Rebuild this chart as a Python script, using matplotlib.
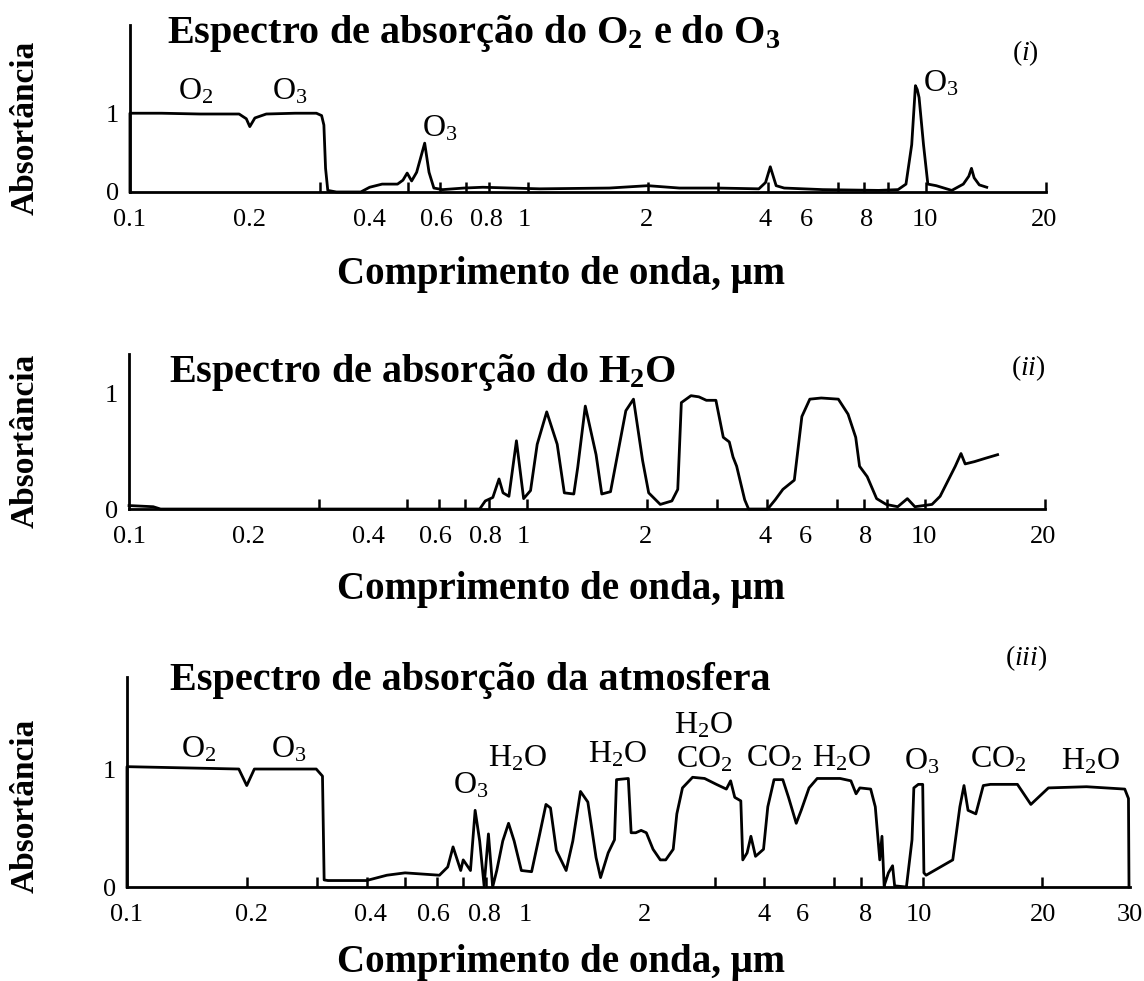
import matplotlib
matplotlib.use("Agg")
import matplotlib.pyplot as plt
from matplotlib.ticker import NullFormatter

# ============================================================
# 1. DADOS
# ============================================================

# (i) espectro de absorção do O2 e do O3
wl_o3 = [0.1, 0.1, 0.12, 0.15, 0.188, 0.196, 0.2, 0.206, 0.22, 0.26,
         0.294, 0.303, 0.307, 0.31, 0.314, 0.33, 0.38, 0.40, 0.43, 0.47,
         0.485, 0.497, 0.51, 0.525, 0.55, 0.564, 0.58, 0.61, 0.69, 0.77,
         1.07, 1.6, 2.0, 2.4, 3.0, 3.8, 3.95, 4.06, 4.2, 4.4,
         5.5, 7.6, 8.5, 8.9, 9.2, 9.4, 9.5, 9.6, 9.85, 10.1,
         10.6, 11.6, 12.4, 12.8, 13.0, 13.2, 13.6, 14.2]
abs_o3 = [0.0, 1.0, 1.0, 0.99, 0.99, 0.93, 0.83, 0.94, 0.99, 1.0,
          1.0, 0.97, 0.85, 0.3, 0.02, 0.0, 0.0, 0.06, 0.10, 0.10,
          0.15, 0.24, 0.14, 0.25, 0.62, 0.25, 0.05, 0.03, 0.05, 0.06,
          0.04, 0.05, 0.08, 0.05, 0.05, 0.04, 0.12, 0.32, 0.08, 0.05,
          0.03, 0.02, 0.03, 0.1, 0.6, 1.35, 1.3, 1.2, 0.6, 0.1,
          0.08, 0.02, 0.1, 0.2, 0.3, 0.18, 0.09, 0.06]

# (ii) espectro de absorção do H2O
wl_h2o = [0.1, 0.115, 0.12, 0.76, 0.785, 0.82, 0.85, 0.87, 0.90, 0.94,
          0.98, 1.02, 1.06, 1.12, 1.19, 1.24, 1.31, 1.34, 1.40, 1.49,
          1.54, 1.62, 1.77, 1.85, 1.95, 2.02, 2.16, 2.31, 2.39, 2.44,
          2.58, 2.70, 2.82, 2.98, 3.11, 3.22, 3.29, 3.36, 3.52, 3.60,
          4.02, 4.20, 4.39, 4.69, 4.90, 5.13, 5.48, 6.05, 6.40, 6.69,
          6.84, 7.15, 7.55, 7.98, 8.53, 9.02, 9.42, 10.4, 10.9, 11.9,
          12.3, 12.6, 13.3, 14.2, 15.2]
abs_h2o = [0.03, 0.02, 0.0, 0.0, 0.07, 0.10, 0.26, 0.14, 0.11, 0.59,
           0.09, 0.16, 0.56, 0.84, 0.56, 0.14, 0.13, 0.36, 0.89, 0.47,
           0.13, 0.15, 0.85, 0.95, 0.42, 0.14, 0.04, 0.07, 0.17, 0.92,
           0.98, 0.97, 0.94, 0.94, 0.62, 0.58, 0.45, 0.37, 0.08, 0.0,
           0.0, 0.08, 0.17, 0.25, 0.80, 0.95, 0.96, 0.95, 0.82, 0.62,
           0.37, 0.28, 0.09, 0.04, 0.02, 0.09, 0.02, 0.04, 0.11, 0.37,
           0.48, 0.39, 0.41, 0.44, 0.47]

# (iii) espectro de absorção da atmosfera
wl_atm = [0.1, 0.1, 0.191, 0.2, 0.209, 0.299, 0.31, 0.313, 0.32, 0.40,
          0.45, 0.50, 0.61, 0.64, 0.66, 0.69, 0.70, 0.73, 0.75, 0.77,
          0.79, 0.81, 0.83, 0.85, 0.88, 0.91, 0.94, 0.98, 1.04, 1.09,
          1.13, 1.16, 1.20, 1.27, 1.32, 1.38, 1.44, 1.51, 1.55, 1.62,
          1.68, 1.70, 1.82, 1.85, 1.90, 1.96, 2.02, 2.10, 2.19, 2.26,
          2.36, 2.41, 2.49, 2.64, 2.83, 3.03, 3.21, 3.29, 3.37, 3.49,
          3.53, 3.62, 3.70, 3.80, 3.98, 4.08, 4.23, 4.45, 4.60, 4.81,
          4.95, 5.18, 5.43, 6.2, 6.6, 6.8, 6.95, 7.4, 7.6, 7.8,
          7.9, 8.0, 8.2, 8.4, 8.5, 9.1, 9.4, 9.5, 9.75, 10.0,
          10.07, 10.2, 11.9, 12.4, 12.7, 13.0, 13.6, 14.2, 14.8, 17.3,
          18.7, 20.7, 25.8, 32.2, 32.9, 33.0]
abs_atm = [0.0, 1.02, 1.0, 0.86, 1.0, 1.0, 0.94, 0.06, 0.055, 0.055,
           0.10, 0.12, 0.10, 0.17, 0.34, 0.14, 0.23, 0.14, 0.65, 0.39,
           0.01, 0.45, 0.0, 0.14, 0.39, 0.54, 0.39, 0.14, 0.13, 0.45,
           0.70, 0.67, 0.31, 0.14, 0.39, 0.81, 0.72, 0.25, 0.08, 0.29,
           0.40, 0.91, 0.92, 0.46, 0.46, 0.48, 0.46, 0.32, 0.23, 0.23,
           0.32, 0.62, 0.84, 0.93, 0.92, 0.87, 0.83, 0.90, 0.76, 0.73,
           0.23, 0.29, 0.43, 0.26, 0.32, 0.68, 0.91, 0.91, 0.76, 0.54,
           0.65, 0.84, 0.92, 0.92, 0.90, 0.79, 0.84, 0.83, 0.68, 0.23,
           0.43, 0.01, 0.12, 0.18, 0.01, 0.0, 0.40, 0.84, 0.87, 0.87,
           0.12, 0.10, 0.23, 0.68, 0.86, 0.65, 0.62, 0.86, 0.87, 0.87,
           0.70, 0.84, 0.85, 0.83, 0.75, 0.0]

# rótulos do eixo x (posição onde aparecem na figura original)
tick_pos = [0.1, 0.2, 0.4, 0.59, 0.785, 0.98, 1.98, 3.95, 5.0, 7.1, 9.9, 19.8]
tick_labels = ["0.1", "0.2", "0.4", "0.6", "0.8", "1", "2", "4", "6", "8", "10", "20"]

tick_pos_atm = [0.1, 0.205, 0.41, 0.59, 0.79, 1.0, 2.0, 3.99, 5.0, 7.2, 9.8, 20.1, 33.2]
tick_labels_atm = ["0.1", "0.2", "0.4", "0.6", "0.8", "1", "2", "4", "6", "8", "10", "20", "30"]

marcas = [0.2, 0.3, 0.4, 0.5, 0.6, 0.7, 0.8, 1, 2, 3, 4, 5, 6, 7, 8, 10, 20]

# anotações dos gases
gases_o3 = [r"O$_2$", r"O$_3$", r"O$_3$", r"O$_3$"]
gases_o3_x = [0.146, 0.252, 0.60, 10.9]
gases_o3_y = [1.27, 1.27, 0.80, 1.38]

gases_atm = [r"O$_2$", r"O$_3$", r"O$_3$", r"H$_2$O", r"H$_2$O", r"H$_2$O",
             r"CO$_2$", r"CO$_2$", r"H$_2$O", r"O$_3$", r"CO$_2$", r"H$_2$O"]
gases_atm_x = [0.151, 0.255, 0.73, 0.96, 1.71, 2.82, 2.82, 4.25, 6.25, 9.96, 15.5, 26.4]
gases_atm_y = [1.16, 1.16, 0.86, 1.09, 1.12, 1.37, 1.08, 1.09, 1.09, 1.06, 1.08, 1.06]

# ============================================================
# 2. ESTILO
# ============================================================

plt.rcParams["font.family"] = "Liberation Serif"
plt.rcParams["mathtext.fontset"] = "custom"
plt.rcParams["mathtext.rm"] = "Liberation Serif"
plt.rcParams["mathtext.it"] = "Liberation Serif:italic"
plt.rcParams["mathtext.bf"] = "Liberation Serif:bold"

fig = plt.figure(figsize=(11.44, 9.81), dpi=100)


def montar_eixo(ax, x_max, y_max, pos, labels):
    ax.set_xscale("log")
    ax.set_xlim(0.1, x_max)
    ax.set_ylim(0, y_max)

    for lado in ["top", "right"]:
        ax.spines[lado].set_visible(False)
    for lado in ["left", "bottom"]:
        ax.spines[lado].set_linewidth(2)

    ax.set_xticks(pos, labels)
    ax.set_xticks(marcas, minor=True)
    ax.xaxis.set_minor_formatter(NullFormatter())
    ax.tick_params(axis="x", which="major", length=0, pad=12, labelsize=19)
    ax.tick_params(axis="x", which="minor", direction="in", length=7, width=1.8)

    ax.set_yticks([0, 1], ["0", "1"])
    ax.tick_params(axis="y", length=0, pad=8, labelsize=19)


# ============================================================
# 3. PAINEL (i) - O2 e O3
# ============================================================

ax1 = fig.add_axes([0.1136, 0.8043, 0.8007, 0.1702])
montar_eixo(ax1, 20, 2.12, tick_pos, tick_labels)

ax1.plot(wl_o3, abs_o3, color="black", linewidth=2, clip_on=False)

for txt, x, y in zip(gases_o3, gases_o3_x, gases_o3_y):
    ax1.text(x, y, txt, ha="center", va="center", fontsize=23)

ax1.text(0.124, 2.01, r"Espectro de absorção do O$_\mathbf{2}$ e do O$_\mathbf{3}$",
         ha="left", va="center", fontsize=29, fontweight="bold")
ax1.text(17.8, 1.76, r"($\it{i}$)", ha="center", va="center", fontsize=20)

# ============================================================
# 4. PAINEL (ii) - H2O
# ============================================================

ax2 = fig.add_axes([0.1128, 0.4811, 0.8007, 0.1580])
montar_eixo(ax2, 20, 1.34, tick_pos, tick_labels)

ax2.plot(wl_h2o, abs_h2o, color="black", linewidth=2, clip_on=False)

ax2.text(0.126, 1.18, r"Espectro de absorção do H$_\mathbf{2}$O",
         ha="left", va="center", fontsize=29, fontweight="bold")
ax2.text(18.2, 1.22, r"($\it{ii}$)", ha="center", va="center", fontsize=20)

# ============================================================
# 5. PAINEL (iii) - ATMOSFERA
# ============================================================

ax3 = fig.add_axes([0.1110, 0.0958, 0.8768, 0.2141])
montar_eixo(ax3, 33.2, 1.78, tick_pos_atm, tick_labels_atm)

ax3.plot(wl_atm, abs_atm, color="black", linewidth=2, clip_on=False)

for txt, x, y in zip(gases_atm, gases_atm_x, gases_atm_y):
    ax3.text(x, y, txt, ha="center", va="center", fontsize=23)

ax3.text(0.128, 1.75, "Espectro de absorção da atmosfera",
         ha="left", va="center", fontsize=29, fontweight="bold")
ax3.text(18.2, 1.94, r"($\it{iii}$)", ha="center", va="center", fontsize=20)

# ============================================================
# 6. RÓTULOS DOS EIXOS
# ============================================================

for y in [0.870, 0.551, 0.179]:
    fig.text(0.022, y, "Absortância", rotation=90, ha="center", va="center",
             fontsize=24, fontweight="bold")

for y in [0.720, 0.399, 0.019]:
    fig.text(0.49, y, "Comprimento de onda, μm", ha="center", va="center",
             fontsize=28, fontweight="bold")

plt.savefig("out.png", dpi=100)
plt.close()
